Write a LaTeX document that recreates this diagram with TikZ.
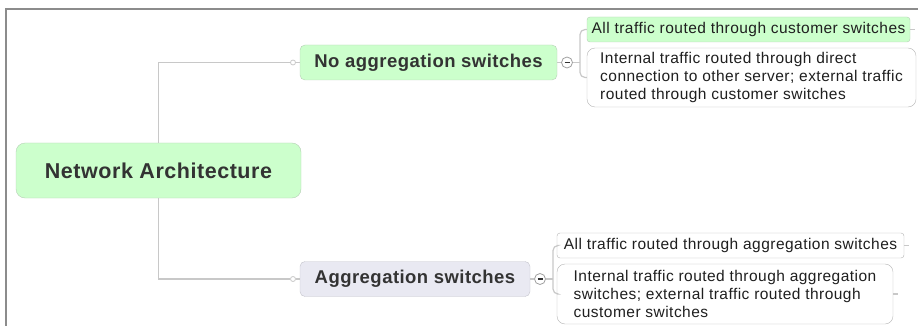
\documentclass[tikz,border=0pt]{standalone}
\usepackage{fontspec}
\setmainfont{Liberation Sans}
\newfontfamily\leaffont[LetterSpace=3]{Liberation Sans}
\newfontfamily\headfont[LetterSpace=2.5]{Liberation Sans}
\usetikzlibrary{calc}
\definecolor{greenfill}{HTML}{CCFFCC}
\definecolor{greenborder}{HTML}{B5CFB5}
\definecolor{grayfill}{HTML}{E9E9F2}
\definecolor{grayborder}{HTML}{C4C4CC}
\definecolor{leafborder}{HTML}{B4B4B4}
\definecolor{connc}{HTML}{C8C8C8}
\definecolor{framec}{HTML}{8C8C8C}
\definecolor{textdark}{HTML}{333333}
\begin{document}
\begin{tikzpicture}[x=1pt,y=-1pt,
  rootbox/.style={draw=greenborder, fill=greenfill, rounded corners=9pt, minimum width=285pt, minimum height=55pt, inner sep=0pt, text=textdark, font=\headfont\bfseries\fontsize{21.5}{25}\selectfont},
  branchbox/.style={rounded corners=5pt, minimum height=35pt, inner sep=0pt, text=textdark, font=\headfont\bfseries\fontsize{18.5}{22}\selectfont},
  branchgreen/.style={branchbox, draw=greenborder, fill=greenfill},
  branchgray/.style={branchbox, draw=grayborder, fill=grayfill},
  leafbox/.style={inner sep=0pt, text=black!88, align=left, font=\leaffont\fontsize{15.5}{18}\selectfont},
  leafgreen/.style={leafbox, draw=greenborder, fill=greenfill, rounded corners=3pt, minimum height=25pt},
  leafwhite/.style={leafbox, draw=leafborder, fill=white, rounded corners=3pt, minimum height=25pt},
  leafbig/.style={leafbox, draw=leafborder, fill=white, rounded corners=8pt},
  conn/.style={draw=connc, line width=1.2pt},
  dot/.style={circle, draw=connc, fill=white, line width=0.8pt, minimum size=5pt, inner sep=0pt},
  collapse/.style={circle, draw=connc!80!black, fill=white, line width=0.8pt, minimum size=11pt, inner sep=0pt,
    path picture={\draw[textdark, line width=1.1pt] ([xshift=-2.5pt]path picture bounding box.center) -- ([xshift=2.5pt]path picture bounding box.center);}},
  framestyle/.style={draw=framec, line width=2pt}
]
\useasboundingbox (0,0) rectangle (918,326);
\draw[framestyle] (918,9.5) -- (5.5,9.5) -- (5.5,326);

% connectors first (behind nodes)
\node[rootbox] (root) at (158.5,170.5) {Network Architecture};
\node[branchgreen, minimum width=257pt] (nb) at (428.5,62.5) {No aggregation switches};
\node[branchgray, minimum width=230pt] (ab) at (415,279) {Aggregation switches};
\node[dot] (nbdot) at (293,62.5) {};
\node[dot] (abdot) at (293,279) {};
\node[collapse] (tc) at (567,62.5) {};
\node[collapse] (ac) at (540,279) {};
\coordinate (tbx) at (580,62.5);
\coordinate (abx) at (553,279);

\node[leafgreen, minimum width=323pt] (c1) at (748.5,29.5) {All traffic routed through customer switches};
\node[leafbig, minimum width=329pt, minimum height=59pt] (c2) at (751.5,77.5) {Internal traffic routed through direct\\connection to other server; external traffic\\routed through customer switches};
\node[leafwhite, minimum width=347pt] (d1) at (730.5,245.5) {All traffic routed through aggregation switches};
\node[leafbig, minimum width=336pt, minimum height=60pt] (d2) at (725,294) {Internal traffic routed through aggregation\\switches; external traffic routed through\\customer switches};

\coordinate (c1s) at ($(c1.east)+(5,0)$);
\coordinate (d1s) at ($(d1.east)+(5,0)$);
\coordinate (d2s) at ($(d2.east)+(5,0)$);

\draw[conn] (root.north) |- (nbdot.west);
\draw[conn] (root.south) |- (abdot.west);
\draw[conn] (nbdot.east) -- (nb.west);
\draw[conn] (abdot.east) -- (ab.west);
\draw[conn] (nb.east) -- (tc.west);
\draw[conn] (ab.east) -- (ac.west);
\draw[conn] (tc.east) -- (tbx);
\draw[conn] (ac.east) -- (abx);
\draw[conn, rounded corners=5pt] (c1.west) -| (tbx) |- (c2.west);
\draw[conn, rounded corners=5pt] (d1.west) -| (abx) |- (d2.west);
\draw[conn] (c1.east) -- (c1s);
\draw[conn] (d1.east) -- (d1s);
\draw[conn] (d2.east) -- (d2s);
\end{tikzpicture}
\end{document}
